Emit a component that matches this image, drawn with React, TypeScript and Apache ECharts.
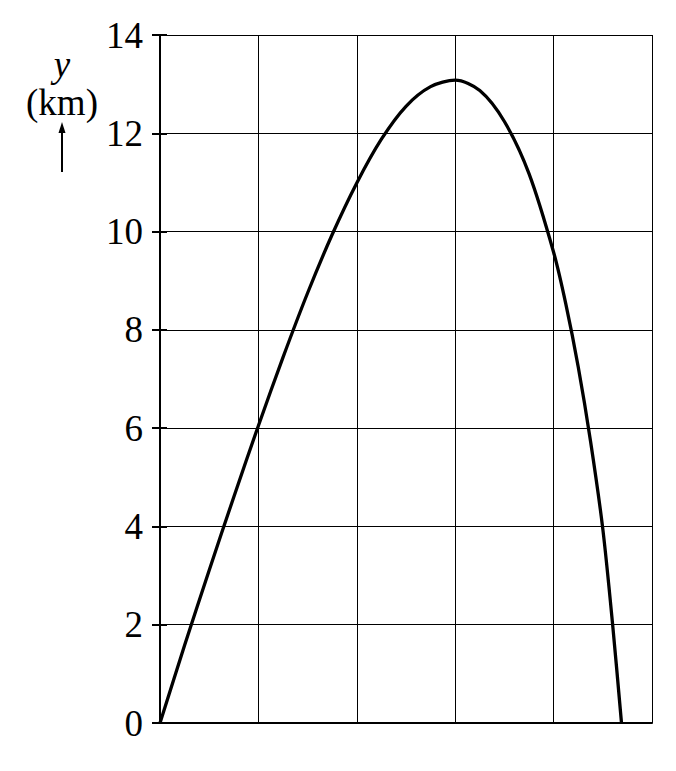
import { useEffect, useRef } from 'react'
import * as echarts from 'echarts'

// curve: x in grid columns, y in km
const xValues = [0, 0.25, 0.5, 0.75, 1, 1.25, 1.5, 1.75, 2, 2.25, 2.5, 2.75, 3, 3.25, 3.5, 3.75, 4, 4.125, 4.25, 4.375, 4.5, 4.6, 4.69]
const yValues = [0, 1.58, 3.11, 4.6, 6.05, 7.44, 8.75, 9.94, 10.99, 11.88, 12.55, 12.95, 13.08, 12.87, 12.24, 11.18, 9.58, 8.52, 7.25, 5.74, 3.95, 2, 0]

const yMin = 0
const yMax = 14
const yStep = 2
const xMin = 0
const xMax = 5
const xStep = 1

const serif = "'Liberation Serif', 'Times New Roman', serif"

export default function App() {
  const chartRef = useRef<HTMLDivElement | null>(null)

  useEffect(() => {
    if (!chartRef.current) return
    const chart = echarts.init(chartRef.current, undefined, { renderer: 'svg' })

    const points = xValues.map((x, i) => [x, yValues[i]])

    const option = {
      animation: false,
      backgroundColor: '#ffffff',
      grid: { left: 160, top: 35, right: 24, bottom: 48, containLabel: false },
      xAxis: {
        type: 'value',
        min: xMin,
        max: xMax,
        interval: xStep,
        axisLine: { show: true, lineStyle: { color: '#000', width: 2 } },
        axisTick: { show: false },
        axisLabel: { show: false },
        splitLine: { show: true, lineStyle: { color: '#000', width: 1 } }
      },
      yAxis: [
        {
          type: 'value',
          min: yMin,
          max: yMax,
          interval: yStep,
          axisLine: { show: true, lineStyle: { color: '#000', width: 2 } },
          axisTick: { show: true, length: 8, lineStyle: { color: '#000', width: 2 } },
          axisLabel: {
            margin: 17,
            color: '#000',
            fontFamily: serif,
            fontSize: 37
          },
          splitLine: { show: true, lineStyle: { color: '#000', width: 1 } }
        },
        {
          // inner half of the tick marks
          type: 'value',
          position: 'left',
          min: yMin,
          max: yMax,
          interval: yStep,
          axisLine: { show: false },
          axisTick: { show: true, inside: true, length: 7, lineStyle: { color: '#000', width: 2 } },
          axisLabel: { show: false },
          splitLine: { show: false }
        }
      ],
      series: [
        {
          type: 'line',
          data: points,
          smooth: 0.3,
          showSymbol: false,
          symbol: 'none',
          lineStyle: { color: '#000', width: 3.3 }
        }
      ],
      graphic: [
        {
          type: 'text',
          x: 62,
          y: 64,
          style: {
            text: 'y',
            font: `italic 37px ${serif}`,
            fill: '#000',
            textAlign: 'center',
            textVerticalAlign: 'middle'
          }
        },
        {
          type: 'text',
          x: 62,
          y: 102,
          style: {
            text: '(km)',
            font: `37px ${serif}`,
            fill: '#000',
            textAlign: 'center',
            textVerticalAlign: 'middle'
          }
        },
        {
          type: 'line',
          shape: { x1: 62, y1: 172, x2: 62, y2: 130 },
          style: { stroke: '#000', lineWidth: 2 }
        },
        {
          type: 'polygon',
          shape: { points: [[62, 122], [58.5, 133], [65.5, 133]] },
          style: { fill: '#000' }
        }
      ]
    }

    chart.setOption(option)

    return () => {
      chart.dispose()
    }
  }, [])

  return (
    <div
      ref={chartRef}
      style={{ position: 'absolute', left: 0, top: 0, width: 676, height: 771 }}
    />
  )
}
